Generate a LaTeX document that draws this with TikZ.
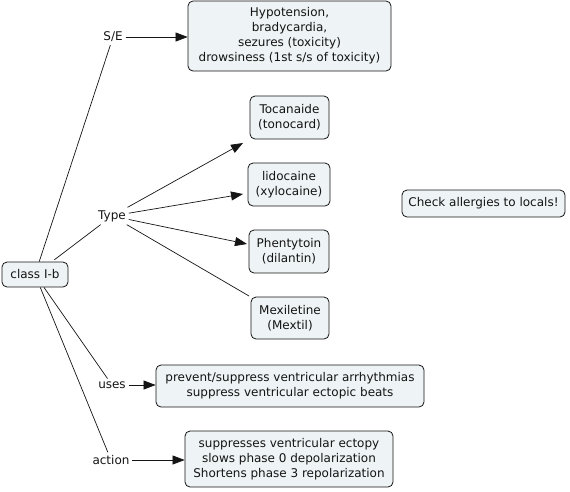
\documentclass[tikz,border=0pt]{standalone}
\usepackage{fontspec}
\setmainfont{DejaVu Sans}
\usetikzlibrary{arrows.meta}
\definecolor{boxfill}{RGB}{238,243,245}
\definecolor{ink}{RGB}{20,20,20}
\begin{document}
\begin{tikzpicture}[x=1pt,y=-1pt,
  every node/.style={font=\fontsize{12}{15}\selectfont, text=ink},
  concept/.style={draw=ink, line width=0.8pt, fill=boxfill, rounded corners=5pt, align=center, inner sep=0pt},
  linklabel/.style={inner sep=3pt, outer sep=0pt},
  conn/.style={draw=ink, line width=0.7pt},
  arr/.style={conn, -{Triangle[length=12pt,width=9pt]}}
]
\useasboundingbox (0,0) rectangle (570,491);
% concepts
\node[concept, minimum width=66pt, minimum height=25pt] (cls) at (35,274.5) {class I-b};
\node[concept, minimum width=203pt, minimum height=70pt] (sebox) at (289.5,36) {Hypotension,\\bradycardia,\\sezures (toxicity)\\drowsiness (1st s/s of toxicity)};
\node[concept, minimum width=79pt, minimum height=43pt] (toc) at (289.5,117.5) {Tocanaide\\(tonocard)};
\node[concept, minimum width=82pt, minimum height=43pt] (lido) at (289,184.5) {lidocaine\\(xylocaine)};
\node[concept, minimum width=80pt, minimum height=43pt] (phen) at (289,251.5) {Phentytoin\\(dilantin)};
\node[concept, minimum width=78pt, minimum height=42pt] (mex) at (290,318) {Mexiletine\\(Mextil)};
\node[concept, minimum width=163pt, minimum height=27pt] (chk) at (483.5,203.5) {Check allergies to locals!};
\node[concept, minimum width=268pt, minimum height=42pt] (usesbox) at (290,386) {prevent/suppress ventricular arrhythmias\\suppress ventricular ectopic beats};
\node[concept, minimum width=208pt, minimum height=56pt] (actbox) at (289,459) {suppresses ventricular ectopy\\slows phase 0 depolarization\\Shortens phase 3 repolarization};
% link labels
\node[linklabel] (se) at (113,37) {S/E};
\node[linklabel] (type) at (112,216) {Type};
\node[linklabel] (uses) at (112,385) {uses};
\node[linklabel] (action) at (111,460) {action};
% free ends of the Type arrows
\coordinate (t1) at (243,143);
\coordinate (t2) at (243,194);
\coordinate (t3) at (247,244);
\coordinate (t4) at (249,296);
% connectors
\draw[conn] (cls) -- (se);
\draw[conn, shorten <=3pt] (cls) -- (type);
\draw[conn] (cls) -- (uses);
\draw[conn] (cls) -- (action);
\draw[arr] (se.east) -- (sebox.west |- se.east);
\draw[arr] (type) -- (t1);
\draw[arr] (type) -- (t2);
\draw[arr] (type) -- (t3);
\draw[conn] (type) -- (t4);
\draw[arr] (uses.east) -- (usesbox.west |- uses.east);
\draw[arr] (action.east) -- (actbox.west |- action.east);
\end{tikzpicture}
\end{document}
